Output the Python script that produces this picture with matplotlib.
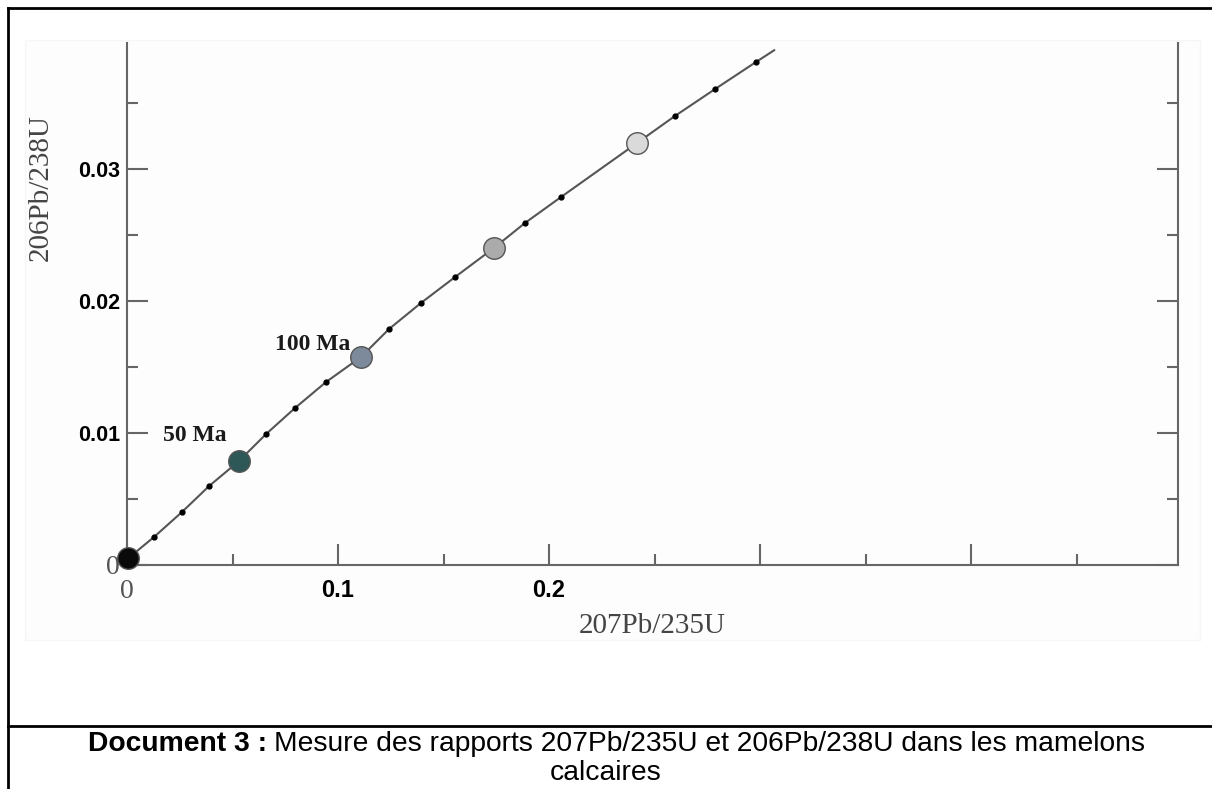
import matplotlib
matplotlib.use("Agg")
import matplotlib.pyplot as plt
from matplotlib.ticker import MultipleLocator
from matplotlib.lines import Line2D
from matplotlib.patches import Rectangle

# big circles on the concordia (207Pb/235U, 206Pb/238U)
circle_x = [0.0005, 0.0531, 0.1109, 0.1739, 0.2417]
circle_y = [0.0005, 0.00788, 0.01576, 0.02402, 0.03197]
circle_colors = ["#0a0a0a", "#2e5857", "#7d8a9c", "#ababab", "#dadada"]
circle_labels = ["", "50 Ma", "100 Ma", "", ""]

# small age dots along the curve
dot_x = [0.0128, 0.0261, 0.0389, 0.0659, 0.0796, 0.0943, 0.1242, 0.1393,
         0.1555, 0.1886, 0.2057, 0.2597, 0.2787, 0.2981]
dot_y = [0.00212, 0.00402, 0.00598, 0.00992, 0.01189, 0.01386, 0.01788, 0.01985,
         0.02182, 0.02591, 0.02788, 0.03402, 0.03606, 0.03811]

# where the drawn curve stops
curve_end = (0.3067, 0.0390)

x_ticks = [0, 0.1, 0.2, 0.3, 0.4]
x_ticklabels = ["0", "0.1", "0.2", "", ""]
y_ticks = [0, 0.01, 0.02, 0.03]
y_ticklabels = ["0", "0.01", "0.02", "0.03"]

W, H = 1212, 789
fig = plt.figure(figsize=(W / 100, H / 100), dpi=100)


def fx(px):
    return px / W


def fy(py):
    return 1 - py / H


# faint background of the pasted picture
fig.patches.append(Rectangle((fx(25), fy(640)), fx(1200) - fx(25), fy(40) - fy(640),
                             transform=fig.transFigure, facecolor="#fdfdfd",
                             edgecolor="#f6f6f6", lw=1, zorder=-5))

ax = fig.add_axes([fx(127), fy(565), fx(1178) - fx(127), fy(43) - fy(565)])
ax.set_zorder(2)
ax.set_facecolor("none")
ax.set_xlim(0, 0.4981)
ax.set_ylim(0, 0.03955)

gray = "#666666"
ax.spines["top"].set_visible(False)
for s in ["left", "bottom", "right"]:
    ax.spines[s].set_color(gray)
    ax.spines[s].set_linewidth(1.5)

ax.set_xticks(x_ticks)
ax.set_xticklabels(x_ticklabels)
ax.set_yticks(y_ticks)
ax.set_yticklabels(y_ticklabels)
ax.xaxis.set_minor_locator(MultipleLocator(0.05))
ax.yaxis.set_minor_locator(MultipleLocator(0.005))
ax.tick_params(which="both", direction="in", color=gray, width=1.5,
               left=True, right=True, bottom=True, top=False)
ax.tick_params(which="major", length=15)
ax.tick_params(which="minor", length=8)
ax.tick_params(axis="x", pad=10)
ax.tick_params(axis="y", pad=5)

for i, lab in enumerate(ax.get_xticklabels()):
    if i == 0:
        lab.set_fontfamily("Liberation Serif")
        lab.set_fontsize(20)
        lab.set_color("#555555")
    else:
        lab.set_fontfamily("Liberation Sans")
        lab.set_fontweight("bold")
        lab.set_fontsize(17)
for i, lab in enumerate(ax.get_yticklabels()):
    if i == 0:
        lab.set_fontfamily("Liberation Serif")
        lab.set_fontsize(20)
        lab.set_color("#555555")
    else:
        lab.set_fontfamily("Liberation Sans")
        lab.set_fontweight("bold")
        lab.set_fontsize(15.5)

# concordia curve through all points
pts = sorted(list(zip(circle_x, circle_y)) + list(zip(dot_x, dot_y)) + [curve_end])
ax.plot([p[0] for p in pts], [p[1] for p in pts], color="#555555", lw=1.5, zorder=2)
ax.plot(dot_x, dot_y, "o", color="black", ms=3.5, zorder=3)
for x, y, c in zip(circle_x, circle_y, circle_colors):
    ax.plot(x, y, "o", ms=15.5, color=c, mec="#555555", mew=1, zorder=4, clip_on=False)

label_offsets = {"50 Ma": (-32, 18), "100 Ma": (-35, 9)}
for x, y, lab in zip(circle_x, circle_y, circle_labels):
    if lab:
        ax.annotate(lab, (x, y), xytext=label_offsets[lab], textcoords="offset points",
                    ha="center", va="center", fontsize=17, fontweight="bold",
                    family="Liberation Serif", color="#1a1a1a", zorder=5)

fig.text(fx(652), fy(626), "207Pb/235U", ha="center", va="center",
         family="Liberation Serif", fontsize=21, color="#444444")
fig.text(fx(41), fy(188), "206Pb/238U", ha="center", va="center", rotation=90,
         family="Liberation Serif", fontsize=21, color="#444444")

# document frame
for xs, ys in [((8, W), (8, 8)), ((8, 8), (8, H)), ((8, W), (726, 726))]:
    fig.add_artist(Line2D([fx(xs[0]), fx(xs[1])], [fy(ys[0]), fy(ys[1])],
                          transform=fig.transFigure, color="black", lw=2))

# caption
cap_size = 20.3
bold = fig.text(fx(88), fy(751), "Document 3 :", ha="left", va="baseline",
                family="Liberation Sans", fontweight="bold", fontsize=cap_size)
r = fig.canvas.get_renderer()
bb = bold.get_window_extent(renderer=r)
fig.text((bb.x1 + 7) / W, fy(751), "Mesure des rapports 207Pb/235U et 206Pb/238U dans les mamelons",
         ha="left", va="baseline", family="Liberation Sans", fontsize=cap_size)
fig.text(fx(606), fy(780), "calcaires", ha="center", va="baseline",
         family="Liberation Sans", fontsize=cap_size)

fig.savefig("out.png", dpi=100)
